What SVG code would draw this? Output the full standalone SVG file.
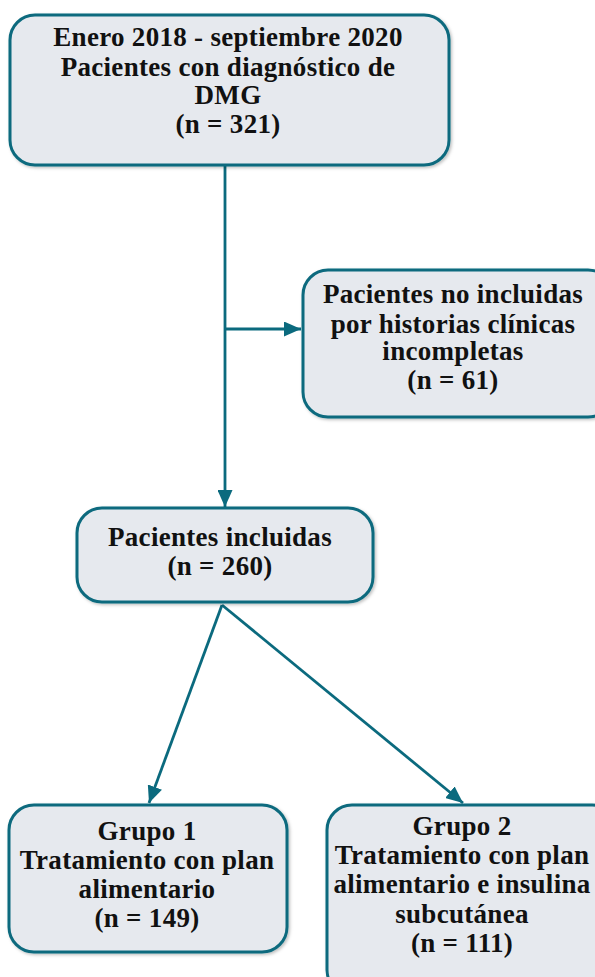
<svg xmlns="http://www.w3.org/2000/svg" width="595" height="977" viewBox="0 0 595 977">
<defs>
<style>
.box{fill:#e6e9ee;stroke:#0b6a7e;stroke-width:3;}
.t{font-family:"Liberation Serif","Times New Roman",serif;font-weight:bold;font-size:27px;letter-spacing:0.3px;fill:#111;text-anchor:middle;}
.c{stroke:#0b6a7e;stroke-width:2.8;fill:none;}
</style>
<marker id="ah" viewBox="0 0 17 15" refX="17" refY="7.5" markerWidth="17" markerHeight="15" markerUnits="userSpaceOnUse" orient="auto">
<path d="M0,0 L17,7.5 L0,15 Z" fill="#0b6a7e"/>
</marker>
<filter id="sh" x="-5%" y="-5%" width="115%" height="115%">
<feDropShadow dx="1.5" dy="1.5" stdDeviation="1.5" flood-color="#000" flood-opacity="0.25"/>
</filter>
</defs>
<rect width="595" height="977" fill="#fff"/>
<g id="connectors">
<line class="c" x1="225" y1="165" x2="225" y2="507" marker-end="url(#ah)"/>
<line class="c" x1="225" y1="329" x2="301" y2="329" marker-end="url(#ah)"/>
<line class="c" x1="222" y1="605" x2="149" y2="803" marker-end="url(#ah)"/>
<line class="c" x1="222" y1="605" x2="463" y2="803" marker-end="url(#ah)"/>
</g>
<g id="n1">
<rect class="box" filter="url(#sh)" x="10" y="15" width="439" height="150" rx="25"/>
<text class="t" x="228" y="46">Enero 2018 - septiembre 2020</text>
<text class="t" x="228" y="76">Pacientes con diagnóstico de</text>
<text class="t" x="228" y="104">DMG</text>
<text class="t" x="228" y="133">(n = 321)</text>
</g>
<g id="n2">
<rect class="box" filter="url(#sh)" x="303" y="270" width="310" height="147" rx="25"/>
<text class="t" x="453" y="303">Pacientes no incluidas</text>
<text class="t" x="453" y="333">por historias clínicas</text>
<text class="t" x="453" y="360">incompletas</text>
<text class="t" x="453" y="389">(n = 61)</text>
</g>
<g id="n3">
<rect class="box" filter="url(#sh)" x="77" y="508" width="296" height="94" rx="25"/>
<text class="t" x="220" y="546">Pacientes incluidas</text>
<text class="t" x="220" y="575">(n = 260)</text>
</g>
<g id="n4">
<rect class="box" filter="url(#sh)" x="9" y="805" width="278" height="147" rx="25"/>
<text class="t" x="147" y="840">Grupo 1</text>
<text class="t" x="147" y="869">Tratamiento con plan</text>
<text class="t" x="147" y="898">alimentario</text>
<text class="t" x="147" y="927">(n = 149)</text>
</g>
<g id="n5">
<rect class="box" filter="url(#sh)" x="327" y="805" width="290" height="190" rx="25"/>
<text class="t" x="462" y="835">Grupo 2</text>
<text class="t" x="462" y="864">Tratamiento con plan</text>
<text class="t" x="462" y="893">alimentario e insulina</text>
<text class="t" x="462" y="923">subcutánea</text>
<text class="t" x="462" y="952">(n = 111)</text>
</g>
</svg>
